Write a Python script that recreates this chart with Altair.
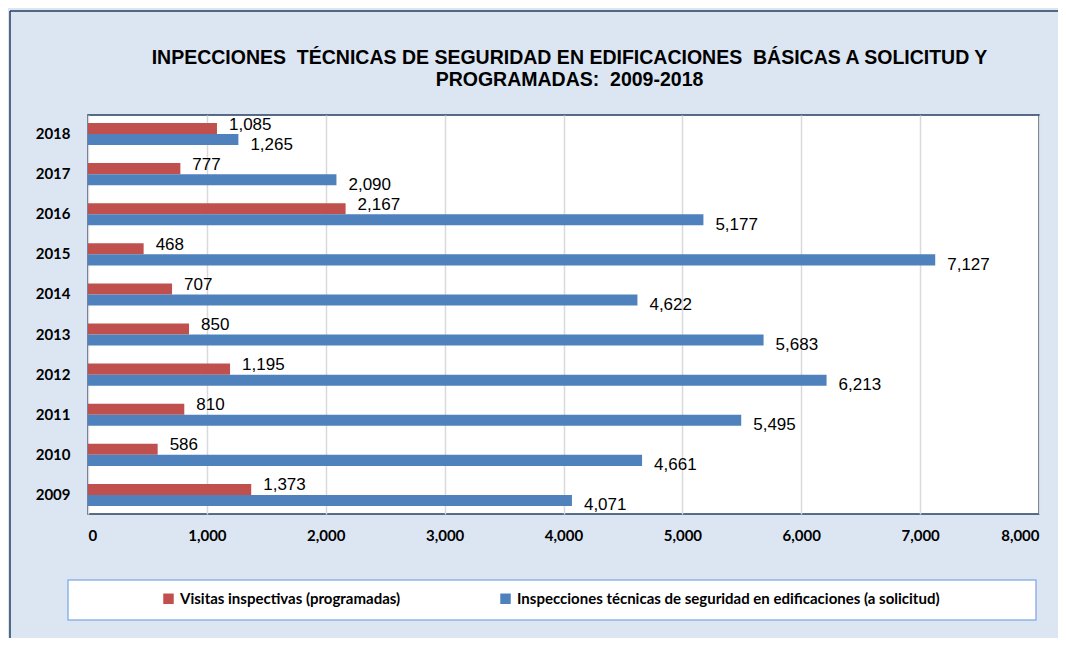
import altair as alt
import pandas as pd

years = ["2018", "2017", "2016", "2015", "2014", "2013", "2012", "2011", "2010", "2009"]
visitas = [1085, 777, 2167, 468, 707, 850, 1195, 810, 586, 1373]
inspecciones = [1265, 2090, 5177, 7127, 4622, 5683, 6213, 5495, 4661, 4071]
series_names = [
    "Visitas inspectivas (programadas)",
    "Inspecciones técnicas de seguridad en edificaciones (a solicitud)",
]
colors = ["#c0504d", "#4f81bd"]
x_ticks = [0, 1000, 2000, 3000, 4000, 5000, 6000, 7000, 8000]
title_lines = [
    "INPECCIONES \u00a0TÉCNICAS DE SEGURIDAD EN EDIFICACIONES \u00a0BÁSICAS A SOLICITUD Y",
    "PROGRAMADAS: \u00a02009-2018",
]

rows = []
for y, v, i in zip(years, visitas, inspecciones):
    rows.append({"year": y, "serie": series_names[0], "valor": v})
    rows.append({"year": y, "serie": series_names[1], "valor": i})
df = pd.DataFrame(rows)

W, H = 951, 399

y_enc = alt.Y("year:N", sort=years, title=None,
              scale=alt.Scale(paddingInner=0.45),
              axis=alt.Axis(labelFont="Lato", labelFontWeight="bold", labelFontSize=15,
                            labelColor="#000000", labelPadding=18, ticks=False, domain=False))
yoff = alt.YOffset("serie:N", sort=series_names, scale=alt.Scale(paddingInner=0, paddingOuter=0))
x_enc = alt.X("valor:Q", title=None,
              scale=alt.Scale(domain=[0, 8000], nice=False),
              axis=alt.Axis(values=x_ticks, format=",.0f", labelFont="Lato", labelFontWeight="bold",
                            labelFontSize=15, labelColor="#000000", labelPadding=14, ticks=False,
                            domain=False, grid=True, gridColor="#d9d9d9", gridWidth=1.5))

base = alt.Chart(df)

bars = base.mark_bar().encode(
    y=y_enc, yOffset=yoff, x=x_enc,
    color=alt.Color("serie:N", sort=series_names,
                    scale=alt.Scale(domain=series_names, range=colors),
                    legend=alt.Legend(title=None, orient="none", direction="horizontal",
                                      legendX=73, legendY=476, symbolType="square",
                                      symbolSize=110, symbolStrokeWidth=0,
                                      labelFont="Lato", labelFontWeight="bold",
                                      labelFontSize=15, labelColor="#000000",
                                      columnPadding=97, labelLimit=700)),
)

txt_red = base.transform_filter(alt.datum.serie == series_names[0]).mark_text(
    align="left", baseline="middle", dx=12, dy=-4, font="Liberation Sans", fontSize=17,
    color="#000000").encode(y=y_enc, yOffset=yoff, x=x_enc, text=alt.Text("valor:Q", format=","))

txt_blue = base.transform_filter(alt.datum.serie == series_names[1]).mark_text(
    align="left", baseline="middle", dx=12, dy=5, font="Liberation Sans", fontSize=17,
    color="#000000").encode(y=y_enc, yOffset=yoff, x=x_enc, text=alt.Text("valor:Q", format=","))

one = alt.Data(values=[{"k": 1}])
legend_box = alt.Chart(one).mark_rect(fill="#ffffff", stroke="#8eb4e3", strokeWidth=1.5).encode(
    x=alt.value(-20), x2=alt.value(948), y=alt.value(465), y2=alt.value(505))
border_v = alt.Chart(one).mark_rule(color="#243f60", strokeWidth=1.5).encode(
    x=alt.value(-78), y=alt.value(-104), y2=alt.value(530))
border_h = alt.Chart(one).mark_rule(color="#243f60", strokeWidth=1.5).encode(
    x=alt.value(-78), x2=alt.value(980), y=alt.value(-104))

chart = alt.layer(legend_box, border_v, border_h, bars, txt_red, txt_blue).properties(
    width=W, height=H,
    autosize=alt.AutoSizeParams(type="none"),
    padding={"left": 80, "top": 107, "right": 19, "bottom": 124},
    background="#dce6f2",
    title=alt.TitleParams(text=title_lines, font="Liberation Sans", fontSize=19.5,
                          fontWeight="bold", color="#000000", anchor="middle",
                          offset=-80, lineHeight=22, dx=6),
).configure_view(stroke="#243f60", strokeWidth=1.5, fill="#ffffff")

chart.save("out.html", embed_options={"renderer": "svg", "actions": False})
